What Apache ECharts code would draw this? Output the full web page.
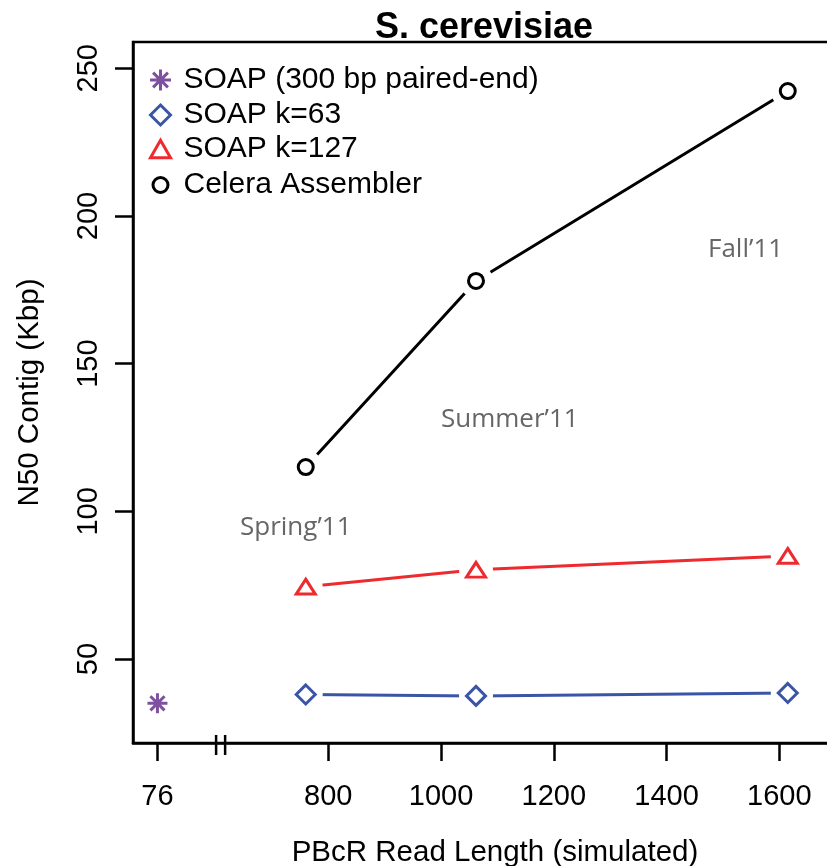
<!DOCTYPE html>
<html>
<head>
<meta charset="utf-8">
<script src="https://cdn.jsdelivr.net/npm/echarts@6/dist/echarts.min.js"></script>
<style>
  html, body { margin: 0; padding: 0; background: #fff; }
  #chart { width: 827px; height: 866px; }
</style>
</head>
<body>
<div id="chart"></div>
<script>
// values
const shortReadLen = [76];
const soapPaired = [35.0];
const readLen = [760, 1062, 1615];
const soapK63 = [38.0, 37.5, 38.5];
const soapK127 = [74.5, 80.2, 84.9];
const celera = [115.0, 178.0, 242.3];
const xTicks = [76, 800, 1000, 1200, 1400, 1600];
const yTicks = [50, 100, 150, 200, 250];
const seasons = ['Spring\u201911', 'Summer\u201911', 'Fall\u201911'];
const legendNames = ['SOAP (300 bp paired-end)', 'SOAP k=63', 'SOAP k=127', 'Celera Assembler'];

const PURPLE = '#7d51a0', BLUE = '#3a55a5', RED = '#ee2a2e', BLACK = '#000';
const FONT = '"Liberation Sans", Arial, Helvetica, sans-serif';

// broken x axis: short reads are drawn in the left segment
const SHORT_POS = 497;
function toAxis(x) { return x < 400 ? SHORT_POS : x; }

const STAR = 'path://M0,-10L0,10M-10,0L10,0M-7.07,-7.07L7.07,7.07M-7.07,7.07L7.07,-7.07';
const DIAMOND = 'path://M0,-10L10,0L0,10L-10,0Z';
const TRIANGLE = 'path://M0,-8.66L10,8.66L-10,8.66Z';

function pairs(xs, ys) { return xs.map((x, i) => [toAxis(x), ys[i]]); }

function lineSeries(name, ys, color) {
  return {
    name: name, type: 'line', data: pairs(readLen, ys),
    symbol: 'circle', symbolSize: 34, // white halo, leaves a gap round each marker
    itemStyle: { color: '#fff', borderWidth: 0 },
    lineStyle: { color: color, width: 3 },
    silent: true, z: 2
  };
}

function pointSeries(name, xs, ys, symbol, size, color, fill) {
  return {
    name: name, type: 'scatter', data: pairs(xs, ys),
    symbol: symbol, symbolSize: size, symbolKeepAspect: true,
    itemStyle: { color: fill, borderColor: color, borderWidth: 3, opacity: 1 },
    z: 4
  };
}

const icons = [
  { icon: STAR, w: 21, h: 21, color: PURPLE, fill: 'rgba(0,0,0,0)' },
  { icon: DIAMOND, w: 20, h: 20, color: BLUE, fill: '#fff' },
  { icon: TRIANGLE, w: 20, h: 18, color: RED, fill: '#fff' },
  { icon: 'circle', w: 15, h: 15, color: BLACK, fill: '#fff' }
];
const legendTops = [65, 100, 134, 170];

var chart = echarts.init(document.getElementById('chart'));

var option = {
  animation: false,
  backgroundColor: '#fff',
  title: {
    text: 'S. cerevisiae', left: 479, top: 5, textAlign: 'center',
    textStyle: { fontFamily: FONT, fontSize: 36, fontWeight: 'bold', color: '#000' }
  },
  grid: { left: 133, right: -30, top: 42, bottom: 123, show: true, borderColor: '#000', borderWidth: 2.5, outerBoundsMode: 'none' },
  legend: legendNames.map((name, i) => ({
    data: [{
      name: name, icon: icons[i].icon,
      itemStyle: { color: icons[i].fill, borderColor: icons[i].color, borderWidth: 3 }
    }],
    left: 159 - icons[i].w / 2, top: legendTops[i], padding: 0,
    itemWidth: icons[i].w, itemHeight: icons[i].h,
    selectedMode: false,
    textStyle: { fontFamily: FONT, fontSize: 30, color: '#000', lineHeight: 30, padding: [0, 0, 0, 23 - icons[i].w / 2 - 5] }
  })),
  xAxis: {
    type: 'value', min: 453.6, max: 1737.8,
    name: 'PBcR Read Length (simulated)', nameLocation: 'middle', nameGap: 95,
    nameTextStyle: { fontFamily: FONT, fontSize: 29.5, color: '#000' },
    axisLine: { lineStyle: { color: '#000', width: 2.5 } },
    axisTick: { length: 18, lineStyle: { color: '#000', width: 2.5 }, customValues: xTicks.map(toAxis) },
    axisLabel: {
      customValues: xTicks.map(toAxis), margin: 39,
      fontFamily: FONT, fontSize: 29, color: '#000',
      formatter: v => v === SHORT_POS ? String(shortReadLen[0]) : String(v)
    },
    splitLine: { show: false }
  },
  yAxis: {
    type: 'value', min: 21.56, max: 258.9,
    name: 'N50 Contig (Kbp)', nameLocation: 'middle', nameGap: 88,
    nameTextStyle: { fontFamily: FONT, fontSize: 29.5, color: '#000' },
    axisLine: { show: true, lineStyle: { color: '#000', width: 2.5 } },
    axisTick: { show: true, length: 18, lineStyle: { color: '#000', width: 2.5 }, customValues: yTicks },
    axisLabel: { customValues: yTicks, rotate: 90, margin: 30, fontFamily: FONT, fontSize: 29, color: '#000' },
    splitLine: { show: false }
  },
  graphic: [
    { id: 's0', type: 'text', left: 240, top: 515, style: { text: seasons[0], font: '26px "Open Sans"', fill: '#666' } },
    { id: 's1', type: 'text', left: 441, top: 407, style: { text: seasons[1], font: '26px "Open Sans"', fill: '#666' } },
    { id: 's2', type: 'text', left: 708, top: 237, style: { text: seasons[2], font: '26px "Open Sans"', fill: '#666' } }
  ],
  series: [
    lineSeries('k63 line', soapK63, BLUE),
    lineSeries('k127 line', soapK127, RED),
    lineSeries('celera line', celera, BLACK),
    pointSeries(legendNames[0], shortReadLen, soapPaired, STAR, 20, PURPLE, 'rgba(0,0,0,0)'),
    pointSeries(legendNames[1], readLen, soapK63, DIAMOND, 19, BLUE, '#fff'),
    pointSeries(legendNames[2], readLen, soapK127, TRIANGLE, [19, 17], RED, '#fff'),
    pointSeries(legendNames[3], readLen, celera, 'circle', 15, BLACK, '#fff')
  ]
};

chart.setOption(option);

// axis break marks "||"
var axisY = chart.convertToPixel({ yAxisIndex: 0 }, 21.56);
var breakX = [601, 617].map(v => chart.convertToPixel({ xAxisIndex: 0 }, v));
chart.setOption({
  graphic: breakX.map((x, i) => ({
    id: 'brk' + i, type: 'line', z: 10,
    shape: { x1: x, y1: axisY - 8, x2: x, y2: axisY + 12 },
    style: { stroke: '#000', lineWidth: 2.5 }
  }))
});
</script>
</body>
</html>
